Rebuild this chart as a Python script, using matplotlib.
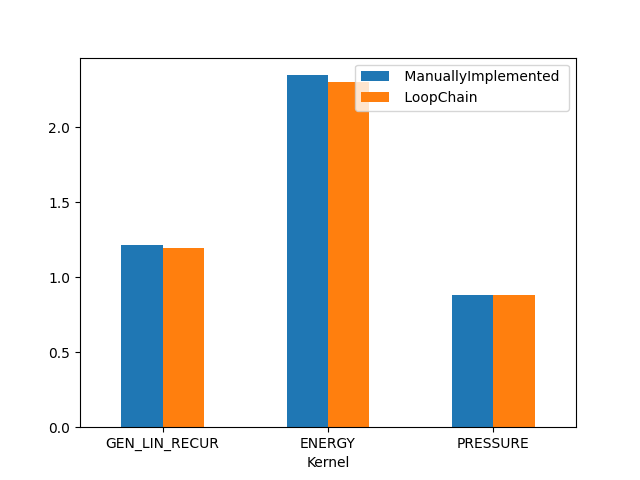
import pandas as pd
import matplotlib
matplotlib.use("Agg")
import matplotlib.pyplot as plt

# kernel timings
kernels = ["GEN_LIN_RECUR", "ENERGY", "PRESSURE"]
manual = [1.213, 2.347, 0.880]
loopchain = [1.193, 2.300, 0.880]

df = pd.DataFrame({" ManuallyImplemented ": manual, " LoopChain ": loopchain},
                  index=pd.Index(kernels, name="Kernel"))

fig, ax = plt.subplots(figsize=(6.4, 4.8), dpi=100)
df.plot(kind="bar", ax=ax, rot=0)
fig.savefig("out.png")
